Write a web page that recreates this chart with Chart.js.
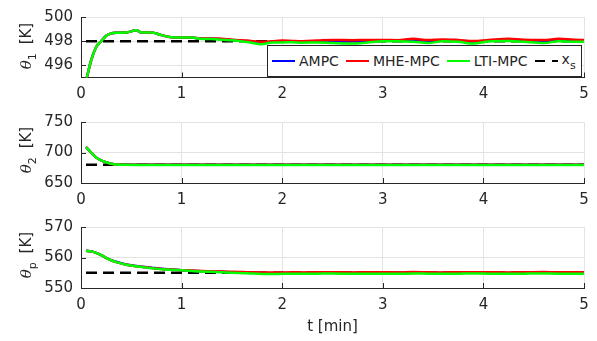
<!DOCTYPE html>
<html><head><meta charset="utf-8">
<script src="https://cdn.jsdelivr.net/npm/chart.js@4.4.1/dist/chart.umd.min.js"></script>
<style>
body{margin:0;background:#fff;width:597px;height:341px;position:relative;overflow:hidden;font-family:"DejaVu Sans",sans-serif;}
canvas{position:absolute;left:0;}
#legend{position:absolute;left:267px;top:45px;width:315px;height:32px;border:1px solid #262626;background:#fff;box-sizing:border-box;display:flex;align-items:center;font-size:14px;color:#262626;padding-left:4px;white-space:nowrap;}
#legend .it{display:flex;align-items:center;margin-right:7px;}
#legend .sw{width:23px;height:2.5px;margin-right:4px;}
#legend sub{font-size:11px;vertical-align:-5px;}
.ytitle{position:absolute;left:28px;width:0;height:0;font-size:15px;color:#262626;white-space:nowrap;}
.ytitle span{position:absolute;transform:translate(-50%,-50%) rotate(-90deg);}
.ytitle i{font-family:"DejaVu Serif",serif;}
.ytitle sub{font-size:11px;vertical-align:-5px;margin-right:4px;}
</style></head><body>
<canvas id="c1" width="597" height="105" style="top:0"></canvas>
<canvas id="c2" width="597" height="105" style="top:105px"></canvas>
<canvas id="c3" width="597" height="131" style="top:210px"></canvas>
<div class="ytitle" id="yt1" style="top:46px"></div>
<div class="ytitle" id="yt2" style="top:150px"></div>
<div class="ytitle" id="yt3" style="top:255px"></div>
<div id="legend"></div>
<script>
// ---------- data ----------
const seriesNames = ['AMPC', 'MHE-MPC', 'LTI-MPC', 'x_s'];
const yTitles = [['θ','1','[K]'], ['θ','2','[K]'], ['θ','p','[K]']];
const xTitle = 't [min]';
const xTicks = [0, 1, 2, 3, 4, 5];
const yTicks1 = [496, 498, 500];
const yTicks2 = [650, 700, 750];
const yTicks3 = [550, 560, 570];
const tMin = [0.05,0.1,0.15,0.2,0.25,0.3,0.35,0.45,0.55,0.6,0.7,0.8,0.9,1.0,1.1,1.2,1.3,1.4,1.5,1.65,1.8,1.9,2.0,2.1,2.2,2.35,2.5,2.7,2.85,3.0,3.15,3.3,3.45,3.6,3.75,3.9,4.05,4.25,4.4,4.6,4.75,4.9,5.0];
const tSet = [0.05, 5.0];

const theta1_LTI  = [494.7,496.4,497.5,498.0,498.45,498.65,498.7,498.72,498.9,498.72,498.72,498.5,498.32,498.3,498.3,498.18,498.18,498.12,498.08,497.93,497.75,497.9,497.9,497.92,497.88,497.9,497.85,497.8,497.9,498.0,498.0,497.95,497.85,498.0,497.95,497.8,497.98,498.02,497.95,497.85,498.0,497.95,497.95];
const theta1_MHE  = [494.7,496.4,497.5,498.0,498.45,498.65,498.7,498.72,498.9,498.72,498.72,498.5,498.33,498.31,498.31,498.22,498.22,498.2,498.12,498.05,497.95,498.0,498.05,498.02,498.0,498.05,498.1,498.08,498.1,498.1,498.08,498.2,498.1,498.15,498.1,498.02,498.1,498.2,498.12,498.1,498.2,498.12,498.1];
const theta1_AMPC = [494.7,496.4,497.5,498.0,498.45,498.65,498.7,498.72,498.9,498.72,498.72,498.5,498.32,498.3,498.3,498.2,498.2,498.16,498.1,498.0,497.88,497.95,497.98,497.98,497.95,497.98,498.0,497.98,498.0,498.05,498.04,498.08,498.0,498.08,498.04,497.95,498.04,498.1,498.05,498.0,498.1,498.05,498.03];
const theta1_xs = [498, 498];

const theta2_LTI  = [709,700,692,687,684,681.6,680.4,679.8,679.7,679.7,679.7,679.7,679.7,679.7,679.7,679.7,679.7,679.7,679.7,679.7,679.7,679.7,679.7,679.7,679.7,679.7,679.7,679.7,679.7,679.7,679.7,679.7,679.7,679.7,679.7,679.7,679.7,679.7,679.7,679.7,679.7,679.7,679.7];
const theta2_MHE  = [709,700,692,687,684,681.6,680.5,680.0,679.9,679.9,679.9,679.9,679.9,679.9,679.9,679.9,679.9,679.9,679.9,679.9,679.9,679.9,679.9,679.9,679.9,679.9,679.9,679.9,679.9,679.9,679.9,679.9,679.9,679.9,679.9,679.9,679.9,679.9,679.9,679.9,679.9,679.9,679.9];
const theta2_AMPC = [709,700,692,687,684,681.6,680.4,679.9,679.8,679.8,679.8,679.8,679.8,679.8,679.8,679.8,679.8,679.8,679.8,679.8,679.8,679.8,679.8,679.8,679.8,679.8,679.8,679.8,679.8,679.8,679.8,679.8,679.8,679.8,679.8,679.8,679.8,679.8,679.8,679.8,679.8,679.8,679.8];
const theta2_xs = [680, 680];

const thetaP_LTI  = [562.2,562.0,561.5,560.8,559.9,559.1,558.5,557.6,557.1,556.9,556.5,556.15,555.95,555.8,555.6,555.4,555.3,555.15,555.0,554.85,554.6,554.6,554.65,554.7,554.65,554.7,554.75,554.65,554.7,554.7,554.65,554.75,554.7,554.65,554.7,554.75,554.7,554.65,554.7,554.75,554.7,554.7,554.65];
const thetaP_MHE  = [562.2,562.0,561.5,560.8,559.9,559.1,558.5,557.6,557.1,556.95,556.6,556.25,556.05,555.85,555.75,555.6,555.5,555.4,555.3,555.2,555.1,555.05,555.1,555.15,555.1,555.15,555.2,555.1,555.15,555.15,555.1,555.25,555.15,555.1,555.15,555.2,555.15,555.1,555.15,555.25,555.15,555.2,555.15];
const thetaP_AMPC = [562.2,562.0,561.5,560.8,559.9,559.1,558.6,557.7,557.2,557.0,556.65,556.3,556.05,555.8,555.65,555.5,555.4,555.3,555.15,555.05,554.9,554.85,554.9,554.95,554.9,554.95,555.0,554.9,554.95,554.95,554.9,555.0,554.95,554.9,554.95,555.0,554.95,554.9,554.95,555.0,554.95,554.95,554.9];
const thetaP_xs = [555, 555];

// ---------- styling ----------
const colors = ['#0000ff', '#ff0000', '#00ff00', '#000000'];
const drawOrder = [2, 1, 0, 3]; // green on top, set-point underneath
const axisColor = '#262626';
const gridColor = '#e3e3e3';
const FONT = 'DejaVu Sans';

function pts(xs, ys){ return xs.map((x,i)=>({x:x, y:ys[i]})); }

const innerTicks = {
  id:'innerTicks',
  afterDatasetsDraw(chart){
    const ctx = chart.ctx, a = chart.chartArea;
    const sx = chart.scales.x, sy = chart.scales.y;
    ctx.save();
    ctx.strokeStyle = axisColor; ctx.lineWidth = 1;
    ctx.beginPath();
    sx.ticks.forEach(t=>{ const p = Math.round(sx.getPixelForValue(t.value))+0.5; ctx.moveTo(p, a.bottom); ctx.lineTo(p, a.bottom-5); });
    sy.ticks.forEach(t=>{ const p = Math.round(sy.getPixelForValue(t.value))+0.5; ctx.moveTo(a.left, p); ctx.lineTo(a.left+5, p); });
    ctx.stroke();
    ctx.restore();
  }
};

function makeChart(id, yMin, yMax, yTicks, series, xAxisHeight, showXTitle){
  const datasets = series.map((s,i)=>({
    label: seriesNames[i],
    data: pts(i===3 ? tSet : tMin, s),
    borderColor: colors[i],
    backgroundColor: colors[i],
    borderWidth: 2.5,
    borderDash: i===3 ? [11,6] : [],
    pointRadius: 0,
    cubicInterpolationMode: 'monotone',
    fill: false,
    order: drawOrder[i]
  }));
  return new Chart(document.getElementById(id), {
    type: 'line',
    data: { datasets },
    plugins: [innerTicks],
    options: {
      responsive: false,
      animation: false,
      events: [],
      layout: { padding: { top: 12.5, right: 13, left: 0, bottom: 0 } },
      plugins: { legend: { display: false }, tooltip: { enabled: false } },
      scales: {
        x: {
          type: 'linear', min: 0, max: 5,
          afterBuildTicks: s => { s.ticks = xTicks.map(v=>({value:v})); },
          afterFit: s => { s.height = xAxisHeight; },
          grid: { color: gridColor, tickLength: 0, drawTicks: false },
          border: { color: axisColor, width: 1 },
          ticks: { color: axisColor, font: { family: FONT, size: 15 }, padding: 8, maxRotation: 0 },
          title: { display: showXTitle, text: xTitle, color: axisColor, font: { family: FONT, size: 15 }, padding: { top: 0, bottom: 5 } }
        },
        y: {
          type: 'linear', min: yMin, max: yMax,
          afterBuildTicks: s => { s.ticks = yTicks.map(v=>({value:v})); },
          afterFit: s => { s.width = 81; },
          grid: { color: gridColor, tickLength: 0, drawTicks: false },
          border: { color: axisColor, width: 1 },
          ticks: { color: axisColor, font: { family: FONT, size: 15 }, padding: 8 }
        }
      }
    }
  });
}

makeChart('c1', 495, 500, yTicks1, [theta1_AMPC, theta1_MHE, theta1_LTI, theta1_xs], 27.5, false);
makeChart('c2', 650, 750, yTicks2, [theta2_AMPC, theta2_MHE, theta2_LTI, theta2_xs], 27, false);
makeChart('c3', 550, 570, yTicks3, [thetaP_AMPC, thetaP_MHE, thetaP_LTI, thetaP_xs], 53, true);

// ---------- y axis titles (HTML text with subscripts) ----------
['yt1','yt2','yt3'].forEach((id,k)=>{
  const [g, s, rest] = yTitles[k];
  const span = document.createElement('span');
  span.innerHTML = '<i>' + g + '</i><sub>' + s + '</sub> ' + rest;
  document.getElementById(id).appendChild(span);
});

// ---------- legend (HTML, built from the series names/colours) ----------
const leg = document.getElementById('legend');
seriesNames.forEach((n,i)=>{
  const it = document.createElement('div'); it.className = 'it';
  const sw = document.createElement('div'); sw.className = 'sw';
  if (i===3) sw.style.background = 'repeating-linear-gradient(to right,#000 0 10px,transparent 10px 17px)';
  else sw.style.background = colors[i];
  it.appendChild(sw);
  const tx = document.createElement('span');
  if (n === 'x_s') { tx.innerHTML = 'x<sub>s</sub>'; } else { tx.textContent = n; }
  it.appendChild(tx);
  leg.appendChild(it);
});
</script>
</body></html>
